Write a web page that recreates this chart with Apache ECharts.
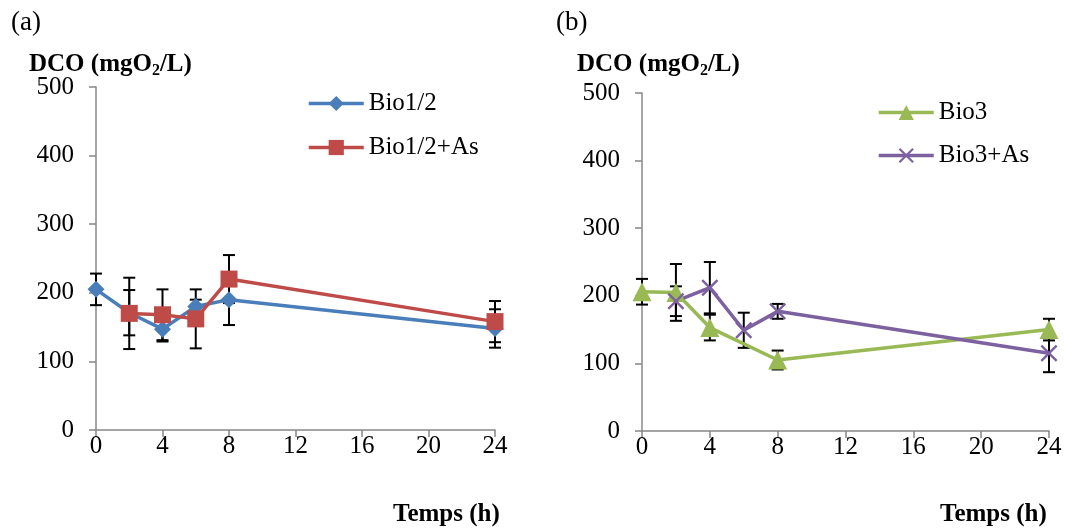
<!DOCTYPE html>
<html>
<head>
<meta charset="utf-8">
<script src="https://cdn.jsdelivr.net/npm/echarts@6/dist/echarts.min.js"></script>
<style>html,body{margin:0;padding:0;background:#fff}#c{width:1065px;height:529px}</style>
</head>
<body>
<div id="c"></div>
<script>
// ---- data ----
const xTicks = [0, 4, 8, 12, 16, 20, 24];
const yTicks = [0, 100, 200, 300, 400, 500];

const bio12X    = [0, 2, 4, 6, 8, 24];
const bio12Y    = [205, 171, 147, 180, 190, 148];
const bio12Err  = [23, 33, 18, 10, 37, 28];

const bio12AsX   = [2, 4, 6, 8, 24];
const bio12AsY   = [170, 168, 162, 220, 158];
const bio12AsErr = [52, 37, 43, 35, 30];

const bio3X   = [0, 2, 4, 8, 24];
const bio3Y   = [206, 205, 153, 105, 150];
const bio3Err = [19, 42, 19, 14, 16];

const bio3AsX   = [2, 4, 6, 8, 24];
const bio3AsY   = [192, 212, 149, 177, 115];
const bio3AsErr = [22, 38, 26, 11, 28];

const FONT = 'Liberation Serif';
const AXIS_COLOR = '#878787';

function pts(xs, ys) { return xs.map((x, i) => [x, ys[i]]); }
function errs(xs, ys, es) { return xs.map((x, i) => [x, ys[i], es[i]]); }

function errRender(params, api) {
  const x = api.value(0), m = api.value(1), e = api.value(2);
  const t = api.coord([x, m + e]), b = api.coord([x, m - e]);
  const w = 6;
  const st = { stroke: '#000', lineWidth: 2 };
  return { type: 'group', children: [
    { type: 'line', shape: { x1: t[0], y1: t[1], x2: b[0], y2: b[1] }, style: st },
    { type: 'line', shape: { x1: t[0] - w, y1: t[1], x2: t[0] + w, y2: t[1] }, style: st },
    { type: 'line', shape: { x1: b[0] - w, y1: b[1], x2: b[0] + w, y2: b[1] }, style: st }
  ]};
}

function xAxisDef(gi) {
  return {
    type: 'value', gridIndex: gi, min: xTicks[0], max: xTicks[xTicks.length - 1],
    interval: xTicks[1] - xTicks[0],
    axisLine: { show: true, lineStyle: { color: AXIS_COLOR, width: 1.5 } },
    axisTick: { show: true, inside: false, length: 7, lineStyle: { color: AXIS_COLOR, width: 1.5 } },
    axisLabel: { color: '#000', fontFamily: FONT, fontSize: 25, margin: 4 },
    splitLine: { show: false }
  };
}
function yAxisDef(gi) {
  return {
    type: 'value', gridIndex: gi, min: yTicks[0], max: yTicks[yTicks.length - 1],
    interval: yTicks[1] - yTicks[0],
    axisLine: { show: true, lineStyle: { color: AXIS_COLOR, width: 1.5 } },
    axisTick: { show: true, inside: false, length: 7, lineStyle: { color: AXIS_COLOR, width: 1.5 } },
    axisLabel: { color: '#000', fontFamily: FONT, fontSize: 25, margin: 22 },
    splitLine: { show: false }
  };
}

const xPath = 'path://M0,1 L1,0 L5,4 L9,0 L10,1 L6,5 L10,9 L9,10 L5,6 L1,10 L0,9 L4,5 Z';

function lineSeries(name, data, color, symbol, size, gi) {
  return {
    type: 'line', name: name, data: data, xAxisIndex: gi, yAxisIndex: gi,
    symbol: symbol, symbolSize: size, showAllSymbol: true, z: 3,
    itemStyle: { color: color },
    lineStyle: { color: color, width: 3.5 },
    emphasis: { disabled: true }, animation: false
  };
}
function errSeries(data, gi) {
  return {
    type: 'custom', data: data, xAxisIndex: gi, yAxisIndex: gi, z: 1,
    renderItem: errRender, encode: { x: 0, y: 1 }, animation: false, silent: true
  };
}

const titleText = (l, t, txt, size, bold) => ({
  left: l, top: t, text: txt,
  textStyle: { fontFamily: FONT, fontSize: size, fontWeight: bold ? 'bold' : 'normal', color: '#000', lineHeight: 28,
    rich: { s: { fontFamily: FONT, fontSize: 16, fontWeight: 'bold', color: '#000', verticalAlign: 'bottom', lineHeight: 16 } } }
});

const legendText = { fontFamily: FONT, fontSize: 25, color: '#000' };

const option = {
  backgroundColor: '#fff',
  animation: false,
  title: [
    titleText(6, 4, '(a)', 27, false),
    titleText(24, 46, 'DCO (mgO{s|2}/L)', 25, true),
    titleText(388, 496, 'Temps (h)', 25, true),
    titleText(551, 4, '(b)', 27, false),
    titleText(572, 46, 'DCO (mgO{s|2}/L)', 25, true),
    titleText(935, 496, 'Temps (h)', 25, true)
  ],
  legend: [
    { data: ['Bio1/2', 'Bio1/2+As'], left: 307, top: 91, padding: 0, orient: 'vertical', itemWidth: 55, itemHeight: 19, itemGap: 19,
      lineStyle: { width: 3.5 }, textStyle: legendText },
    { data: ['Bio3', 'Bio3+As'], left: 877, top: 100, padding: 0, orient: 'vertical', itemWidth: 55, itemHeight: 19, itemGap: 18,
      lineStyle: { width: 3.5 }, textStyle: legendText }
  ],
  grid: [
    { left: 96, top: 87, width: 399, height: 343 },
    { left: 642, top: 93, width: 407, height: 338 }
  ],
  xAxis: [xAxisDef(0), xAxisDef(1)],
  yAxis: [yAxisDef(0), yAxisDef(1)],
  series: [
    errSeries(errs(bio12X, bio12Y, bio12Err), 0),
    errSeries(errs(bio12AsX, bio12AsY, bio12AsErr), 0),
    lineSeries('Bio1/2', pts(bio12X, bio12Y), '#4A7EBB', 'diamond', 17, 0),
    lineSeries('Bio1/2+As', pts(bio12AsX, bio12AsY), '#BE4B48', 'rect', 17, 0),
    errSeries(errs(bio3X, bio3Y, bio3Err), 1),
    errSeries(errs(bio3AsX, bio3AsY, bio3AsErr), 1),
    lineSeries('Bio3', pts(bio3X, bio3Y), '#98B954', 'triangle', 19, 1),
    lineSeries('Bio3+As', pts(bio3AsX, bio3AsY), '#7D60A0', xPath, 17, 1)
  ]
};

const chart = echarts.init(document.getElementById('c'), null, { renderer: 'canvas' });
chart.setOption(option);
</script>
</body>
</html>
